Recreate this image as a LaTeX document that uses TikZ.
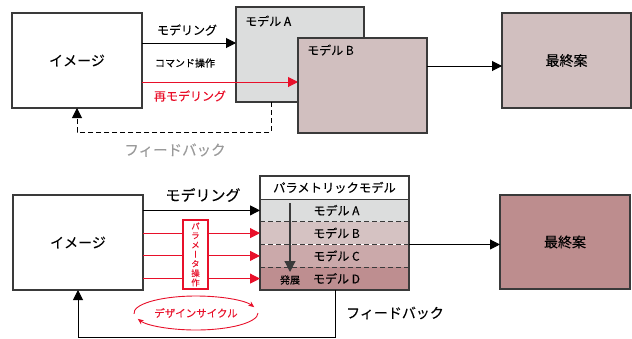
\documentclass[tikz,border=0pt]{standalone}
\usepackage{fontspec}
\setmainfont{Noto Sans CJK JP}[FakeBold=0.15]
\newfontfamily\vjp{Noto Sans CJK JP}[RawFeature=+vert,FakeBold=0.1]
\usetikzlibrary{arrows.meta,calc}
\definecolor{frame}{HTML}{3A3A3A}
\definecolor{rd}{HTML}{E8102A}
\definecolor{grayA}{HTML}{DCDDDD}
\definecolor{pinkB}{HTML}{D1BFBF}
\definecolor{rowB}{HTML}{D5C2C2}
\definecolor{rowC}{HTML}{CBA9AA}
\definecolor{rowD}{HTML}{BE8E90}
\definecolor{finB}{HTML}{BD8D8E}
\definecolor{fbgray}{HTML}{9A9A9A}
\tikzset{
  box/.style={draw=frame,line width=1.3pt,inner sep=0pt,outer sep=0pt},
  arr/.style={line width=1pt,-{Triangle[length=10pt,width=10pt]}},
  rarr/.style={arr,draw=rd,-{Triangle[length=10pt,width=10pt,fill=rd]},color=rd},
  lbl/.style={inner sep=0pt,font=\fontsize{12}{14}\selectfont},
  row/.style={inner sep=0pt,outer sep=0pt,minimum width=149pt,minimum height=22.75pt,font=\fontsize{12}{14}\selectfont},
  dsh/.style={line width=1pt,dash pattern=on 5pt off 3pt},
}
\begin{document}
\begin{tikzpicture}[x=1pt,y=-1pt]
\useasboundingbox (0,0) rectangle (632,338);
% ---------------- top ----------------
\node[box,fill=white,minimum width=130pt,minimum height=95pt,font=\fontsize{14}{16}\selectfont] (img1) at (77,60.5) {イメージ};
\node[box,fill=grayA,minimum width=128pt,minimum height=95pt] (mA) at (300,54.5) {};
\node[lbl,anchor=west] (mAl) at (245,21) {モデル A};
\draw[arr] (img1.east |- 0,43) -- (mA.west |- 0,43);
\node[lbl] (mdl1) at (187,30) {モデリング};
\node[lbl,font=\fontsize{10}{12}\selectfont] (cmd) at (185,63) {コマンド操作};
\draw[rarr] (img1.east |- 0,82) -- (298,82) coordinate (rend);
\node[lbl,text=rd] (remdl) at (190,96) {再モデリング};
\draw[dsh,-{Triangle[length=10pt,width=10pt]}] (mA.south -| 271,0) -- (271,132) -- (77,132) -- (img1.south);
\node[lbl,text=fbgray,font=\fontsize{14.5}{16}\selectfont] (fb1) at (175,150) {フィードバック};
\node[box,fill=pinkB,minimum width=129pt,minimum height=95pt] (mB) at (362.5,85.5) {};
\node[lbl,anchor=west] (mBl) at (307,50) {モデル B};
\node[box,fill=pinkB,minimum width=129pt,minimum height=95pt,font=\fontsize{14}{16}\selectfont] (fin1) at (566.5,60.5) {最終案};
\draw[arr] (mB.east |- 0,66) -- (fin1.west |- 0,66);
% ---------------- bottom ----------------
\node[box,fill=white,minimum width=130pt,minimum height=95pt,font=\fontsize{14}{16}\selectfont] (img2) at (78,242.5) {イメージ};
\node[row,fill=white,minimum height=23pt,font=\fontsize{12.3}{14}\selectfont] (hdr) at (334.5,187.5) {パラメトリックモデル};
\node[row,fill=grayA] (rA) at (334.5,210.4) {\hspace*{4pt}モデル A};
\node[row,fill=rowB] (rB) at (334.5,233.1) {\hspace*{4pt}モデル B};
\node[row,fill=rowC] (rC) at (334.5,255.9) {\hspace*{4pt}モデル C};
\node[row,fill=rowD] (rD) at (334.5,278.6) {\hspace*{4pt}モデル D};
\draw[dsh,draw=frame] (rA.south west) -- (rA.south east);
\draw[dsh,draw=frame] (rB.south west) -- (rB.south east);
\draw[dsh,draw=frame] (rC.south west) -- (rC.south east);
\draw[line width=1pt,draw=frame] (hdr.south west) -- (hdr.south east);
\draw[box] (hdr.north west) rectangle (rD.south east);
\draw[line width=1.2pt,draw=frame,-{Triangle[length=11pt,width=11pt]}] (290,203) coordinate (dv0) -- (290,272) coordinate (dv1);
\node[lbl,font=\fontsize{10}{12}\selectfont] (dev) at (290,280) {発展};
\draw[arr] (img2.east |- rA) -- (rA.west);
\node[lbl,font=\fontsize{15}{17}\selectfont] (mdl2) at (203,195) {モデリング};
\draw[rarr] (img2.east |- rB) -- (rB.west);
\draw[rarr] (img2.east |- rC) -- (rC.west);
\draw[rarr] (img2.east |- rD) -- (rD.west);
\node[draw=rd,line width=1.2pt,fill=white,minimum width=25pt,minimum height=69pt,inner sep=0pt,text=rd,align=center,font=\vjp\fontsize{8.5}{9.4}\selectfont] (pm) at (195.5,254.5) {パ\\ラ\\メ\\ー\\タ\\操\\作};
\node[box,fill=finB,minimum width=130pt,minimum height=94pt,font=\fontsize{14}{16}\selectfont] (fin2) at (565,242) {最終案};
\draw[arr] (rB.south east) -- (fin2.west |- rB.south east);
\draw[line width=1pt,-{Triangle[length=10pt,width=10pt]}] (rD.south -| 335,0) -- (335,337) -- (78,337) -- (img2.south -| 78,0);
\node[lbl,font=\fontsize{14}{16}\selectfont] (fb2) at (395,313) {フィードバック};
% design cycle
\coordinate (dc) at (196,313);
\begin{scope}[shift={(dc)},y=1pt]
  \draw[rd,line width=0.9pt,-{Stealth[length=6pt,width=5pt]}] (183:62 and 17) arc[start angle=183,end angle=20,x radius=62,y radius=17];
  \draw[rd,line width=0.9pt,-{Stealth[length=6pt,width=5pt]}] (0:62 and 17) arc[start angle=0,end angle=-160,x radius=62,y radius=17];
\end{scope}
\node[lbl,text=rd,font=\fontsize{10.5}{12}\selectfont] (dcl) at (dc) {デザインサイクル};
\end{tikzpicture}
\end{document}
